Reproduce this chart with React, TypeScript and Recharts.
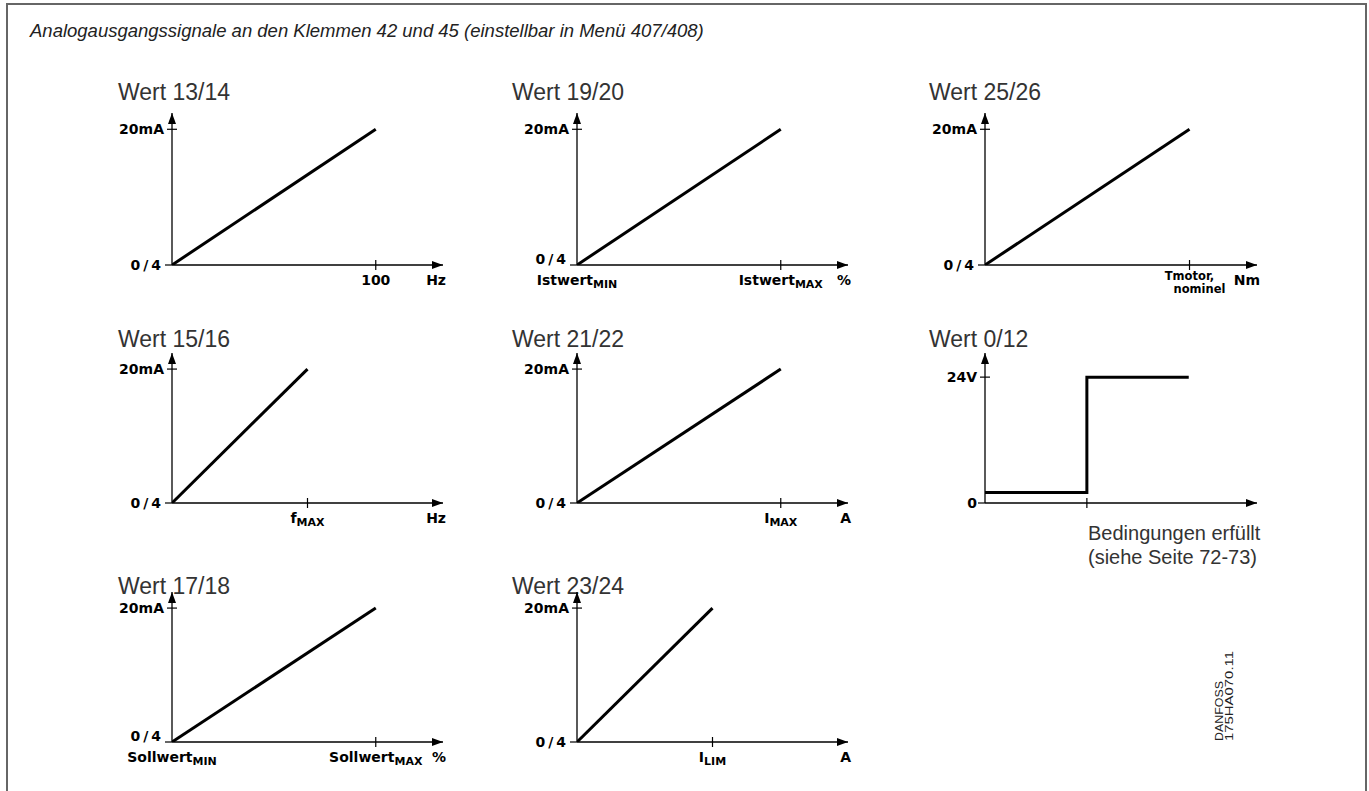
import { Line, LineChart, XAxis, YAxis } from "recharts";

// Kennlinien der Analogausgänge (x in % bzw. Hz, y in mA bzw. V)
const titles = [
  "Wert 13/14",
  "Wert 19/20",
  "Wert 25/26",
  "Wert 15/16",
  "Wert 21/22",
  "Wert 0/12",
  "Wert 17/18",
  "Wert 23/24",
];

const rampX = [0, 100];
const rampY = [0, 20];
const stepX = [0, 100, 200];
const stepY = [2, 24, 24];

const mATicks = [0, 20];
const mALabels = ["0/4", "20mA"];
const vTicks = [0, 24];
const vLabels = ["0", "24V"];

const units = ["Hz", "%", "Nm", "Hz", "A", "", "%", "A"];

type Lbl = { t: string; sub?: string; line2?: string };

const xTickVals: number[][] = [[100], [0, 100], [100], [100], [100], [100], [0, 100], [100]];
const xTickLabels: Lbl[][] = [
  [{ t: "100" }],
  [{ t: "Istwert", sub: "MIN" }, { t: "Istwert", sub: "MAX" }],
  [{ t: "Tmotor,", line2: "nominel" }],
  [{ t: "f", sub: "MAX" }],
  [{ t: "I", sub: "MAX" }],
  [{ t: "" }],
  [{ t: "Sollwert", sub: "MIN" }, { t: "Sollwert", sub: "MAX" }],
  [{ t: "I", sub: "LIM" }],
];

// Achsenende (Pfeilspitze) in Dateneinheiten
const xEnds = [133, 133, 133, 200, 133, 267, 133, 200];
const yEnds = [22.4, 22.4, 22.4, 22.4, 22.4, 28.6, 22.4, 22.4];

// Lage der Diagramme auf der Seite: Ursprung und Pfeilspitzen
const colX0 = [172, 577, 985];
const colXa = [443, 848, 1257];
const rowY0 = [265, 503, 742];
const rowYa = [113, 353, 592];
const titleX = [118, 512, 929];
const titleY = [100, 347, 594];

const LABEL_FONT = "'DejaVu Sans', sans-serif";
const TEXT_FONT = "'Liberation Sans', Arial, sans-serif";
const YW = 80;
const XH = 40;
const MT = 14;
const MR = 20;

function Panel({ idx }: { idx: number }) {
  const row = Math.floor(idx / 3);
  const col = idx % 3;
  const isStep = idx === 5;
  const x0 = colX0[col];
  const xa = colXa[col];
  const y0 = rowY0[row];
  const ya = rowYa[row];
  const plotW = xa - x0;
  const plotH = y0 - ya;
  const w = YW + plotW + MR;
  const h = MT + plotH + XH;
  const axisY = MT + plotH;
  const xs = isStep ? stepX : rampX;
  const ys = isStep ? stepY : rampY;
  const data = xs.map((x, i) => ({ x, y: ys[i] }));
  const yTicks = isStep ? vTicks : mATicks;
  const yLabels = isStep ? vLabels : mALabels;
  const xEnd = xEnds[idx];
  const ticks = [...xTickVals[idx], xEnd];
  const raise0 = xTickVals[idx].includes(0);
  const mid = `arrow-${idx}`;

  const renderXTick = (props: any) => {
    const x = props.x;
    const v = props.payload.value;
    if (v === xEnd) {
      return (
        <text x={x + 3} y={axisY + 20} textAnchor="end" fontFamily={LABEL_FONT} fontWeight="bold" fontSize={14} fill="#000">
          {units[idx]}
        </text>
      );
    }
    const li = xTickVals[idx].indexOf(v);
    const lbl = xTickLabels[idx][li] || { t: "" };
    return (
      <g>
        {v !== 0 && <line x1={x} x2={x} y1={axisY - 5} y2={axisY + 5} stroke="#000" strokeWidth={1.2} />}
        <text
          x={x}
          y={axisY + (lbl.line2 ? 15 : 20)}
          textAnchor="middle"
          fontFamily={LABEL_FONT}
          fontWeight="bold"
          fontSize={lbl.line2 ? 11.5 : 14}
          fill="#000"
        >
          {lbl.t}
          {lbl.sub && (
            <tspan fontSize={11} dy={3}>
              {lbl.sub}
            </tspan>
          )}
        </text>
        {lbl.line2 && (
          <text x={x + 10} y={axisY + 28} textAnchor="middle" fontFamily={LABEL_FONT} fontWeight="bold" fontSize={11.5} fill="#000">
            {lbl.line2}
          </text>
        )}
      </g>
    );
  };

  const renderYTick = (props: any) => {
    const y = props.y;
    const v = props.payload.value;
    const li = yTicks.indexOf(v);
    const ax = YW;
    return (
      <g>
        {v === 0 ? (
          <line x1={ax - 7} x2={ax} y1={y} y2={y} stroke="#000" strokeWidth={1.2} />
        ) : (
          <line x1={ax - 5} x2={ax + 5} y1={y} y2={y} stroke="#000" strokeWidth={1.2} />
        )}
        <text
          x={ax - 8}
          y={v === 0 && raise0 ? y - 1 : y + 5}
          textAnchor="end"
          fontFamily={LABEL_FONT}
          fontWeight="bold"
          fontSize={14}
          letterSpacing={v === 0 && !isStep ? 3 : 0}
          fill="#000"
        >
          {yLabels[li]}
        </text>
      </g>
    );
  };

  return (
    <div style={{ position: "absolute", left: x0 - YW, top: ya - MT }}>
      <LineChart width={w} height={h} data={data} margin={{ top: MT, right: MR, bottom: 0, left: 0 }}>
        <defs>
          <marker
            id={mid}
            markerWidth={12}
            markerHeight={10}
            refX={11}
            refY={4}
            orient="auto-start-reverse"
            markerUnits="userSpaceOnUse"
          >
            <path d="M0,0 L11,4 L0,8 Z" fill="#000" />
          </marker>
        </defs>
        <XAxis
          type="number"
          dataKey="x"
          domain={[0, xEnd]}
          ticks={ticks}
          interval={0}
          height={XH}
          tickLine={false}
          allowDataOverflow
          axisLine={{ stroke: "#000", strokeWidth: 1.3, markerEnd: `url(#${mid})` }}
          tick={renderXTick}
        />
        <YAxis
          type="number"
          domain={[0, yEnds[idx]]}
          ticks={yTicks}
          interval={0}
          width={YW}
          tickLine={false}
          allowDataOverflow
          axisLine={{ stroke: "#000", strokeWidth: 1.3, markerStart: `url(#${mid})` }}
          tick={renderYTick}
        />
        <Line
          type={isStep ? "stepAfter" : "linear"}
          dataKey="y"
          stroke="#000"
          strokeWidth={3}
          dot={false}
          isAnimationActive={false}
        />
      </LineChart>
    </div>
  );
}

export default function App() {
  return (
    <div style={{ position: "absolute", left: 0, top: 0, width: 1369, height: 791, background: "#fff", overflow: "hidden" }}>
      <svg width={1369} height={791} style={{ position: "absolute", left: 0, top: 0 }}>
        <rect x={7} y={4} width={1359} height={820} fill="none" stroke="#666" strokeWidth={2} />
        <text x={30} y={37} fontFamily={TEXT_FONT} fontStyle="italic" fontSize={18.5} fill="#222">
          Analogausgangssignale an den Klemmen 42 und 45 (einstellbar in Menü 407/408)
        </text>
        {titles.map((t, i) => (
          <text key={t} x={titleX[i % 3]} y={titleY[Math.floor(i / 3)]} fontFamily={TEXT_FONT} fontSize={23} fill="#333">
            {t}
          </text>
        ))}
        <text x={1088} y={540} fontFamily={TEXT_FONT} fontSize={20} fill="#333">
          Bedingungen erfüllt
        </text>
        <text x={1088} y={564} fontFamily={TEXT_FONT} fontSize={20} fill="#333">
          (siehe Seite 72-73)
        </text>
        <g transform="translate(1223,741) rotate(-90)" fontFamily={TEXT_FONT} fontSize={11} fill="#222">
          <text x={0} y={0} textLength={60} lengthAdjust="spacingAndGlyphs">
            DANFOSS
          </text>
          <text x={0} y={10} textLength={90} lengthAdjust="spacingAndGlyphs">
            175HA070.11
          </text>
        </g>
      </svg>
      {titles.map((t, i) => (
        <Panel key={t} idx={i} />
      ))}
    </div>
  );
}
